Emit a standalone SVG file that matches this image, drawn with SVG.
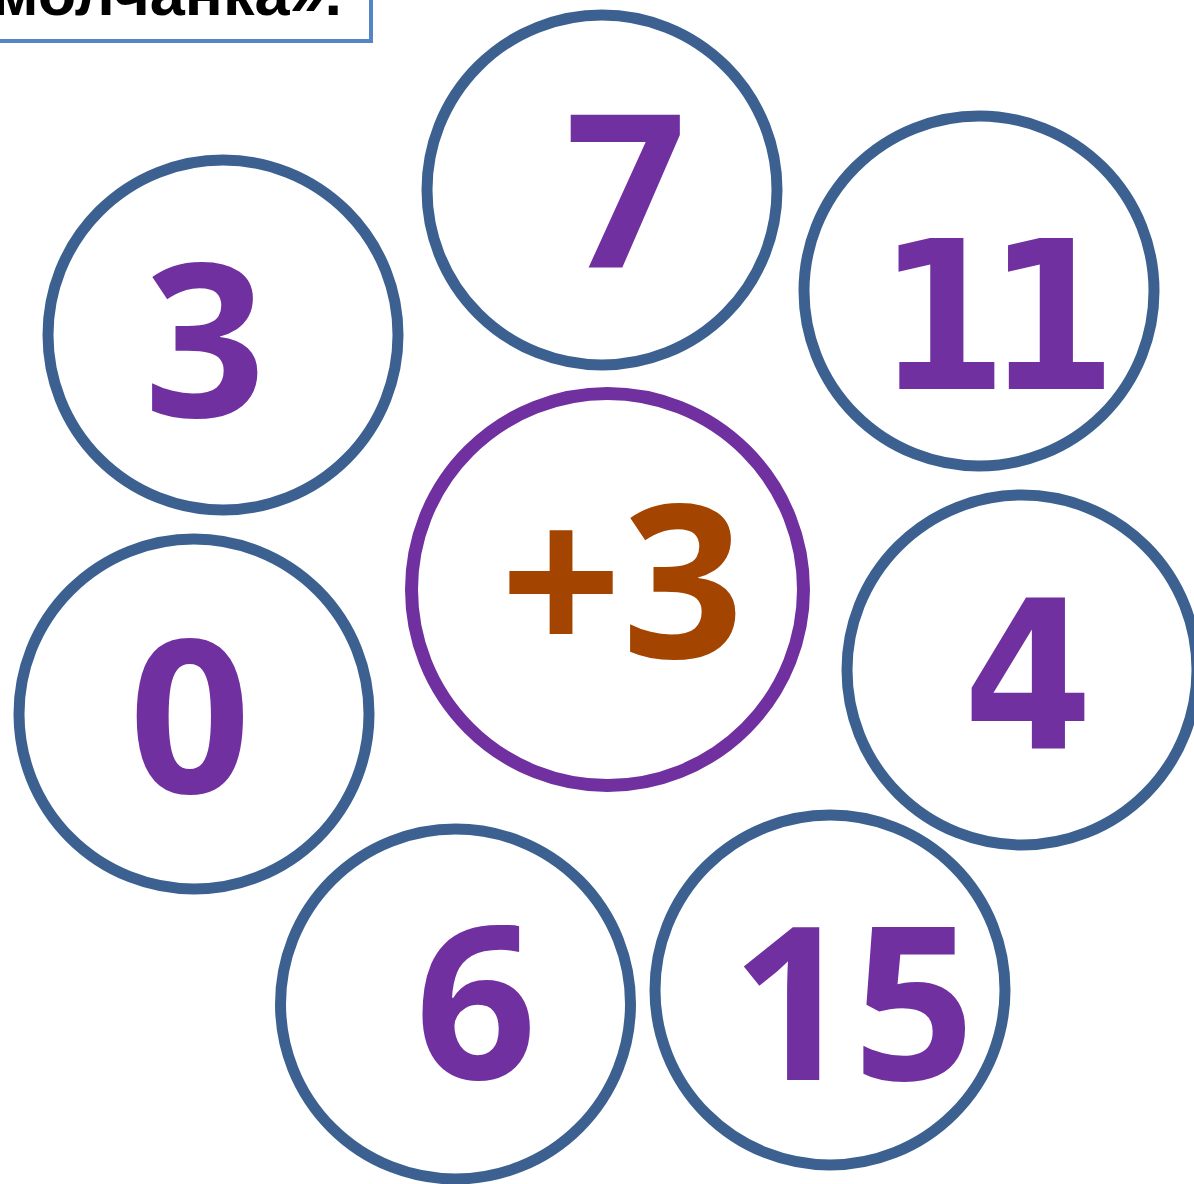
<svg xmlns="http://www.w3.org/2000/svg" width="1194" height="1184" viewBox="0 0 1194 1184">
<style>
.c{fill:none;stroke:#3C6190;stroke-width:11}
.n{font-family:"Open Sans",Lato,sans-serif;font-weight:700;font-size:213px;fill:#7030A0;text-anchor:middle}
.v{font-family:"DejaVu Sans Condensed","DejaVu Sans",sans-serif;font-weight:700;font-size:207px;fill:#7030A0;text-anchor:middle}
</style>
<rect width="1194" height="1184" fill="#ffffff"/>
<g id="title">
<rect x="-10" y="-60" width="381" height="101" fill="#ffffff" stroke="#5585C6" stroke-width="4"/>
<text x="342" y="15" font-family="'Liberation Sans',Arial,sans-serif" font-weight="700" font-size="63" fill="#000000" text-anchor="end">молчанка».</text>
</g>
<g id="connectors"/>
<g id="center">
<circle cx="607.5" cy="589.5" r="196" fill="none" stroke="#7030A0" stroke-width="13"/>
<text x="622" y="658" class="n" style="fill:#A34400">+3</text>
</g>
<g id="n7"><circle class="c" cx="602" cy="190" r="175"/><text class="n" x="626" y="268">7</text></g>
<g id="n3"><circle class="c" cx="223" cy="335" r="175"/><text class="n" x="205" y="417">3</text></g>
<g id="n11"><circle class="c" cx="979" cy="291" r="175"/><text class="v" x="987" y="389" letter-spacing="-20">11</text></g>
<g id="n4"><circle class="c" cx="1022" cy="670" r="175"/><text class="v" x="1028" y="749">4</text></g>
<g id="n0"><circle class="c" cx="194" cy="714" r="175"/><text class="n" x="190" y="793">0</text></g>
<g id="n6"><circle class="c" cx="455.5" cy="1004" r="175"/><text class="n" x="476" y="1079">6</text></g>
<g id="n15"><circle class="c" cx="830" cy="990" r="175"/><text class="n" x="853" y="1080">15</text></g>
</svg>
